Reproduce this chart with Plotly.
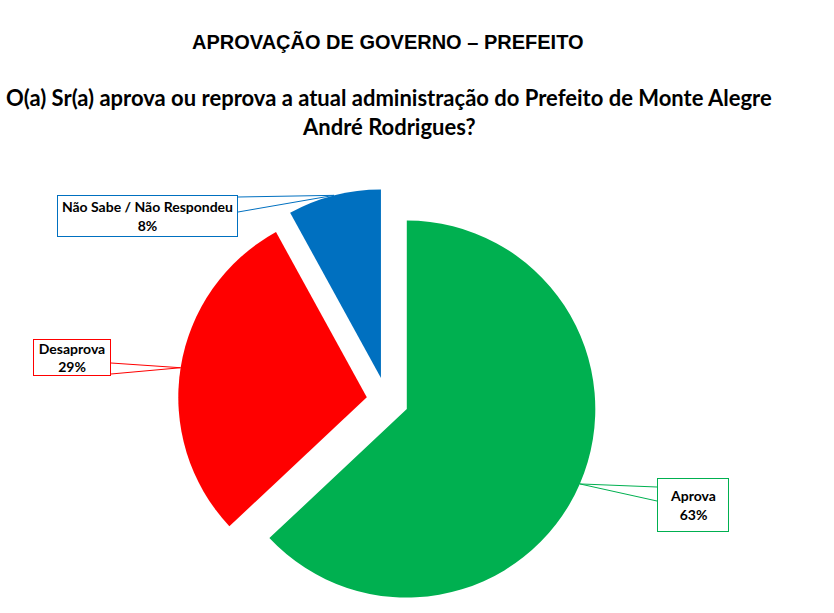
import math
import plotly.graph_objects as go

# ---- data ----
labels = ["Aprova", "Desaprova", "Não Sabe / Não Respondeu"]
values = [63, 29, 8]
colors = ["#00B050", "#FF0000", "#0070C0"]
pulls = [0.116, 0.107, 0.123]
title_text = "APROVAÇÃO DE GOVERNO – PREFEITO"
question_lines = ["O(a) Sr(a) aprova ou reprova a atual administração do Prefeito de Monte Alegre",
                  "André Rodrigues?"]

W, H = 834, 613
dom_x = [0.1987, 0.7287]
dom_y = [0.0015, 0.6922]

fig = go.Figure(go.Pie(
    labels=labels, values=values, sort=False, direction="clockwise", rotation=0,
    marker=dict(colors=colors, line=dict(width=0)), pull=pulls,
    textinfo="none", hoverinfo="label+percent", showlegend=False,
    domain=dict(x=dom_x, y=dom_y),
))

# geometry mirrored from plotly's pie layout (pixels, y down)
box_w = (dom_x[1] - dom_x[0]) * W
box_h = (dom_y[1] - dom_y[0]) * H
r = min(box_w, box_h) / (2 + 2 * max(pulls))
cx = W * (dom_x[0] + dom_x[1]) / 2
cy = H * (1 - dom_y[0]) - box_h / 2

total = sum(values)
tips = []
acc = 0
for v, p in zip(values, pulls):
    mid = (acc + v / 2) / total * 2 * math.pi
    acc += v
    dx, dy = math.sin(mid), -math.cos(mid)
    ox, oy = cx + p * r * dx, cy + p * r * dy
    tips.append((ox + r * dx, oy + r * dy))

def px(x): return x / W
def py(y): return 1 - y / H

# callout boxes: (left, top, right, bottom) in px
boxes = [(657, 478, 729, 532), (33, 339, 111, 376), (57, 195, 238, 237)]
anchors = [((657, 487), (657, 501)), ((111, 363), (111, 374)), ((238, 197), (238, 212))]

shapes = []
annotations = []
for i, (lab, v) in enumerate(zip(labels, values)):
    l, t, rr, b = boxes[i]
    (a1x, a1y), (a2x, a2y) = anchors[i]
    tx, ty = tips[i]
    shapes.append(dict(type="path", xref="paper", yref="paper",
                       path=f"M {px(a1x)},{py(a1y)} L {px(tx)},{py(ty)} L {px(a2x)},{py(a2y)}",
                       line=dict(color=colors[i], width=1)))
    annotations.append(dict(
        x=px((l + rr) / 2), y=py((t + b) / 2), xref="paper", yref="paper",
        text=f"<b>{lab}<br>{v}%</b>", showarrow=False, align="center",
        font=dict(family="Lato", size=14, color="#000000"),
        bordercolor=colors[i], borderwidth=1, bgcolor="#FFFFFF", borderpad=2,
        width=(rr - l) - 6, height=(b - t) - 6, xanchor="center", yanchor="middle",
    ))

annotations.append(dict(x=px(388), y=py(42), xref="paper", yref="paper", showarrow=False,
                        xanchor="center", yanchor="middle",
                        text=f"<b>{title_text}</b>",
                        font=dict(family="Liberation Sans", size=20, color="#000000")))
for k, line in enumerate(question_lines):
    annotations.append(dict(x=px(389), y=py(97 + 30 * k), xref="paper", yref="paper", showarrow=False,
                            xanchor="center", yanchor="middle",
                            text=f"<b>{line}</b>",
                            font=dict(family="Lato", size=22, color="#000000")))

fig.update_layout(width=W, height=H, margin=dict(l=0, r=0, t=0, b=0),
                  paper_bgcolor="#FFFFFF", plot_bgcolor="#FFFFFF",
                  shapes=shapes, annotations=annotations)
fig.write_html("out.html", config={"displayModeBar": False},
               post_script="document.body.style.margin='0';")
